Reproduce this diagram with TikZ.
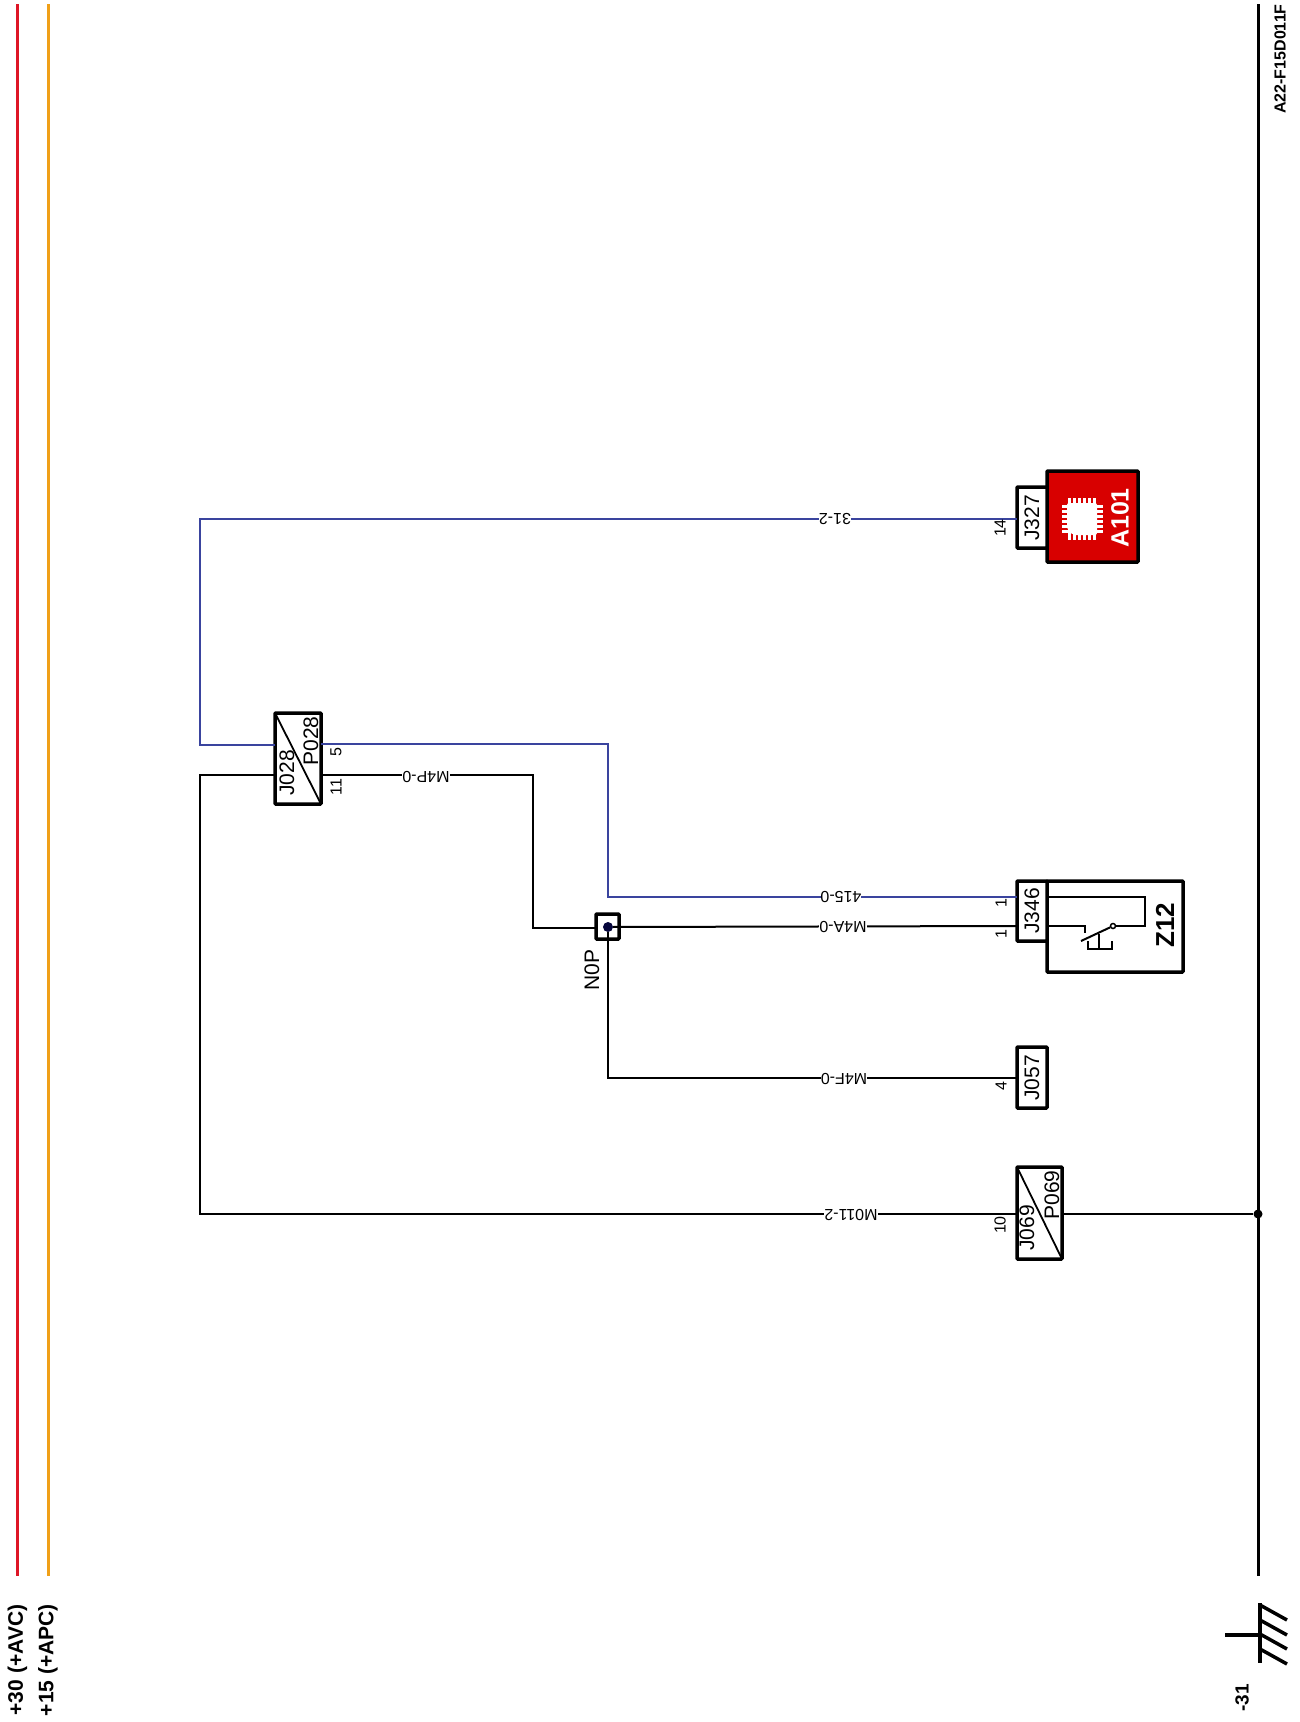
\documentclass[tikz,border=0pt]{standalone}
\usepackage{fontspec}
\setmainfont{Liberation Sans}
\usepackage{tikz}
\usetikzlibrary{calc}
\usetikzlibrary{positioning}
\definecolor{railred}{RGB}{222,22,38}
\definecolor{railorange}{RGB}{240,160,24}
\definecolor{wireblue}{RGB}{58,68,158}
\definecolor{ecured}{RGB}{216,0,0}
\definecolor{dotnavy}{RGB}{6,6,60}
\tikzset{
  conn/.style = {draw=black, line width=3.5pt, fill=white, inner sep=0pt, outer sep=0pt, rounded corners=0.8pt},
  connlab/.style = {font=\fontsize{21}{21}\selectfont, rotate=90, inner sep=0pt},
  pinlab/.style = {font=\fontsize{16}{16}\selectfont, rotate=90, inner sep=0pt},
  wirelab/.style = {font=\fontsize{16}{16}\selectfont, rotate=180, fill=white, inner sep=0pt},
  boldlab/.style = {font=\bfseries\fontsize{21}{21}\selectfont, rotate=90, inner sep=0pt},
  wire/.style = {line width=2pt, black},
  bwire/.style = {line width=2pt, wireblue},
  rail/.style = {line width=3pt},
}
\begin{document}
\begin{tikzpicture}[x=1pt,y=-1pt]
\useasboundingbox (0,0) rectangle (1300,1722);
% rails
\coordinate (r30top) at (17.5,4);
\coordinate (r30bot) at (17.5,1576);
\coordinate (r15top) at (48,4);
\coordinate (r15bot) at (48,1576);
\coordinate (r31top) at (1258,4);
\coordinate (r31bot) at (1258,1576);
\draw[rail,railred] (r30top) -- (r30bot);
\draw[rail,railorange] (r15top) -- (r15bot);
\draw[rail,black] (r31top) -- (r31bot);
\node [boldlab] (lab30) at (17.5,1660) {+30 (+AVC)};
\node [boldlab] (lab15) at (48,1660) {+15 (+APC)};
\node [boldlab,font=\bfseries\fontsize{19}{19}\selectfont] (lab31) at (1242,1698) {-31};
\node [boldlab,font=\bfseries\fontsize{16}{16}\selectfont] (labsheet) at (1280,59) {A22-F15D011F};
% ground
\draw[line width=4pt] (1225,1635) -- (1260,1635);
\draw[line width=4pt] (1260,1603) -- (1260,1663);
\foreach \y in {1605,1620,1634,1649}
  \draw[line width=3.5pt] (1260,\y) -- (1287,\y+15);
% A101
\node [conn,fill=ecured,minimum width=91pt,minimum height=91pt] (a101) at (1092.5,516.5) {};
\node [conn,minimum width=30pt,minimum height=61pt] (j327) at (1032,517.5) {};
\node [connlab] (j327lab) at (1032,518) {J327};
\node [boldlab,white,font=\bfseries\fontsize{25}{25}\selectfont] (a101lab) at (1120,518) {A101};
\fill[white,rounded corners=2pt] (1067,503) -- (1097,503) -- (1097,535) -- (1073,535) -- (1067,529) -- cycle;
\foreach \d in {-12.5,-7.5,...,12.5} {
  \fill[white] (1082+\d-1.2,498) rectangle (1082+\d+1.2,540);
  \fill[white] (1062,519+\d-1.2) rectangle (1103,519+\d+1.2);
}
% Z12
\node [conn,minimum width=136pt,minimum height=91pt] (z12) at (1115,926.5) {};
\node [conn,minimum width=30pt,minimum height=60pt] (j346) at (1032,911) {};
\node [connlab] (j346lab) at (1032,911) {J346};
\node [boldlab,font=\bfseries\fontsize{26}{26}\selectfont] (z12lab) at (1165,925) {Z12};
\node [circle,draw,line width=1.5pt,fill=white,inner sep=0pt,minimum size=5pt] (sw) at (1113,926) {};
\coordinate (z12a) at (1047,896.5);
\coordinate (z12b) at (1047,926);
\coordinate (levend) at (1081,941);
\draw[wire] (z12a) -- (1145,896.5) -- (1145,926) -- (sw);
\draw[wire] (z12b) -- (1085,926) -- (1085,933);
\draw[wire] (sw) -- (levend);
\draw[wire] (1099,934) -- (1099,949);
\draw[wire] (1088,941) -- (1088,949) -- (1112,949) -- (1112,941);
% J057, J069, J028
\node [conn,minimum width=30pt,minimum height=61pt] (j057) at (1032,1077.5) {};
\node [connlab] (j057lab) at (1032,1078) {J057};
\node [conn,minimum width=45pt,minimum height=92pt] (j069) at (1039.5,1213) {};
\draw[line width=1.8pt] (j069.north west) -- (j069.south east);
\node [connlab] (j069lab) at (1027,1228) {J069};
\node [connlab] (p069lab) at (1052,1195) {P069};
\node [conn,minimum width=46pt,minimum height=91pt] (j028) at (298,758.5) {};
\draw[line width=1.8pt] (j028.north west) -- (j028.south east);
\node [connlab] (j028lab) at (287,773) {J028};
\node [connlab] (p028lab) at (311,741) {P028};
% splice
\node [conn,minimum width=23pt,minimum height=25pt] (n0p) at (607.5,926.5) {};
\node [circle,fill=dotnavy,inner sep=0pt,minimum size=10pt] (n0pdot) at (608,927) {};
\node [connlab] (n0plab) at (592,970) {N0P};
\node [circle,fill=black,inner sep=0pt,minimum size=9pt] (gnddot) at (1258,1214) {};
% pin ends
\coordinate (j028l5) at (275,744.5);
\coordinate (j028l11) at (275,775);
\coordinate (p028r5) at (321,743.5);
\coordinate (p028r11) at (321,775);
\coordinate (j327p) at (1017,518.5);
\coordinate (j346a) at (1017,896.5);
\coordinate (j346b) at (1017,926);
\coordinate (j057p) at (1017,1078);
\coordinate (j069p) at (1017,1214);
\coordinate (p069p) at (1062,1214);
% wires
\draw[bwire] (j028l5) -- (199.5,744.5) -- (199.5,518.5) -- (j327p);
\node [wirelab] (w312) at (835,519) {31-2};
\draw[bwire] (p028r5) -- (608,743.5) -- (608,896.5) -- (j346a);
\node [wirelab] (w415) at (841,897) {415-0};
\draw[wire] (p028r11) -- (533,775) -- (533,928) -- (n0p.west |- 533,928);
\node [wirelab] (wm4p) at (426,777) {M4P-0};
\draw[wire] (n0pdot) -- (j346b);
\node [wirelab] (wm4a) at (843,927) {M4A-0};
\draw[wire] (n0pdot) -- (608,1078) -- (j057p);
\node [wirelab] (wm4f) at (844,1079) {M4F-0};
\draw[wire] (j028l11) -- (200,775) -- (200,1214) -- (j069p);
\node [wirelab] (wm011) at (851,1215) {M011-2};
\draw[wire] (p069p) -- (gnddot);
% pins
\node [pinlab] (pin14) at (1000,528) {14};
\node [pinlab] (pin1a) at (1001,903) {1};
\node [pinlab] (pin1b) at (1001,934) {1};
\node [pinlab] (pin4) at (1001,1086) {4};
\node [pinlab] (pin10) at (1000,1225) {10};
\node [pinlab] (pin5) at (336,752) {5};
\node [pinlab] (pin11) at (336,787) {11};
\end{tikzpicture}
\end{document}
